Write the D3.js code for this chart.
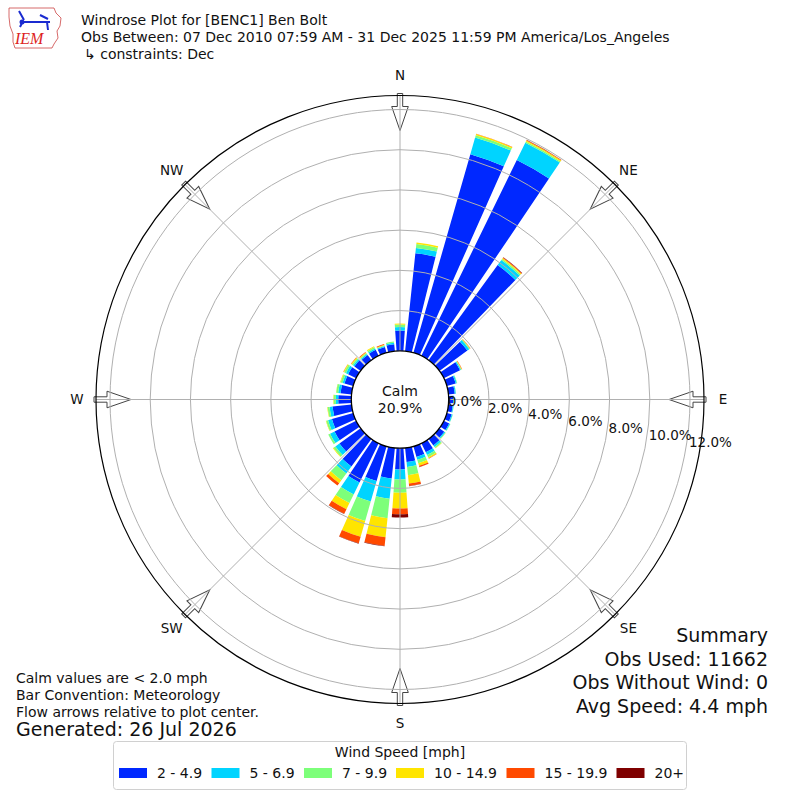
<!DOCTYPE html>
<html>
<head>
<meta charset="utf-8">
<script src="https://cdn.jsdelivr.net/npm/d3@7"></script>
<style>
  html, body { margin: 0; padding: 0; background: #fff; }
  svg { display: block; font-family: "DejaVu Sans", sans-serif; }
</style>
</head>
<body>
<div id="chart"></div>
<script>
// direction bins (degrees, meteorological convention)
const directions = [0, 10, 20, 30, 40, 50, 60, 70, 80, 90, 100, 110, 120, 130, 140, 150, 160, 170,
  180, 190, 200, 210, 220, 230, 240, 250, 260, 270, 280, 290, 300, 310, 320, 330, 340, 350];

// frequency (%) per speed bin
const speed2to49 = [1.01, 4.89, 10.27, 10.83, 5.84, 1.72, 0.90, 0.46, 0.32, 0.22, 0.22, 0.25, 0.30, 0.30, 0.40, 0.50, 0.55, 0.70,
  1.06, 1.53, 1.80, 2.17, 1.69, 1.30, 1.20, 1.10, 0.95, 0.65, 0.55, 0.45, 0.45, 0.38, 0.32, 0.33, 0.30, 0.34];
const speed5to69 = [0.17, 0.27, 0.86, 0.96, 0.31, 0.12, 0.05, 0.06, 0.05, 0.04, 0.04, 0.05, 0.05, 0.06, 0.10, 0.15, 0.15, 0.25,
  0.50, 1.01, 1.06, 0.66, 0.43, 0.25, 0.25, 0.20, 0.15, 0.12, 0.12, 0.10, 0.12, 0.08, 0.06, 0.07, 0.05, 0.07];
const speed7to99 = [0.13, 0.20, 0.12, 0.07, 0.07, 0.04, 0.03, 0.02, 0.01, 0.01, 0.01, 0.01, 0.02, 0.03, 0.06, 0.12, 0.17, 0.41,
  0.65, 0.97, 1.00, 0.48, 0.42, 0.12, 0.10, 0.10, 0.10, 0.11, 0.10, 0.10, 0.10, 0.08, 0.05, 0.08, 0.03, 0.07];
const speed10to149 = [0.05, 0.07, 0.06, 0.05, 0.05, 0.02, 0.02, 0, 0, 0, 0, 0, 0, 0.01, 0.02, 0.06, 0.14, 0.42,
  0.79, 0.95, 0.82, 0.34, 0.18, 0.03, 0, 0.02, 0.02, 0.02, 0.01, 0.03, 0.04, 0.04, 0.04, 0.05, 0.03, 0];
const speed15to199 = [0, 0, 0.02, 0.03, 0.04, 0.01, 0.02, 0, 0, 0, 0, 0, 0, 0, 0, 0.02, 0.06, 0.12,
  0.28, 0.44, 0.34, 0.25, 0.15, 0, 0, 0, 0, 0, 0, 0, 0.01, 0.02, 0.03, 0, 0.04, 0];
const speed20plus = [0, 0, 0, 0.01, 0.02, 0, 0, 0, 0, 0, 0, 0, 0, 0, 0, 0, 0.01, 0.01,
  0.17, 0.02, 0.02, 0.02, 0, 0, 0, 0, 0, 0, 0, 0, 0, 0, 0, 0, 0, 0];

const speedLabels = ['2 - 4.9', '5 - 6.9', '7 - 9.9', '10 - 14.9', '15 - 19.9', '20+'];
const speedColors = ['#0028ff', '#00d4ff', '#7dff7a', '#ffe500', '#ff4a00', '#7f0000'];
const ringTicks = [0, 2, 4, 6, 8, 10, 12];
const compass = ['N', 'NE', 'E', 'SE', 'S', 'SW', 'W', 'NW'];
const calmPct = '20.9%';

const titleLines = [
  'Windrose Plot for [BENC1] Ben Bolt',
  'Obs Between: 07 Dec 2010 07:59 AM - 31 Dec 2025 11:59 PM America/Los_Angeles',
  '\u21b3 constraints: Dec'
];
const noteLines = ['Calm values are < 2.0 mph', 'Bar Convention: Meteorology', 'Flow arrows relative to plot center.'];
const summaryLines = ['Summary', 'Obs Used: 11662', 'Obs Without Wind: 0', 'Avg Speed: 4.4 mph'];

const W = 800, H = 800;
const cx = 400, cy = 399.5;
const outerR = 304;

const svg = d3.select('#chart').append('svg').attr('width', W).attr('height', H);

// radial scale: 0% sits on the calm circle
const r = d3.scaleLinear().domain([0, 12]).range([48.7, 290]);
const angle = d3.scaleLinear().domain([0, 360]).range([0, 2 * Math.PI]);
const halfW = 4; // bar half width in degrees

const series = [speed2to49, speed5to69, speed7to99, speed10to149, speed15to199, speed20plus];
const table = directions.map((d, i) => {
  const row = { dir: d };
  series.forEach((s, k) => { row['s' + k] = s[i]; });
  return row;
});
const stacked = d3.stack().keys(series.map((s, k) => 's' + k))(table);

const g = svg.append('g').attr('transform', `translate(${cx},${cy})`);

// bars
const arc = d3.arc();
stacked.forEach((layer, k) => {
  g.append('g').selectAll('path')
    .data(layer.filter(d => d[1] - d[0] > 0))
    .join('path')
    .attr('d', d => arc({
      innerRadius: r(d[0]),
      outerRadius: r(d[1]),
      startAngle: angle(d.data.dir - halfW),
      endAngle: angle(d.data.dir + halfW)
    }))
    .attr('fill', speedColors[k]);
});

// flow arrows at the rim, pointing inward
const arrowPath = 'M0,-2.7 L13,-2.7 L13,-8.3 L37,0 L13,8.3 L13,2.7 L0,2.7 Z';
compass.forEach((c, i) => {
  const a = i * 45;
  g.append('path')
    .attr('d', arrowPath)
    .attr('transform', `rotate(${a - 90}) translate(${outerR + 2},0) rotate(180)`)
    .attr('fill', '#fff')
    .attr('stroke', '#444')
    .attr('stroke-width', 1);
});

// grid rings and spokes drawn over the bars
g.append('g').selectAll('circle')
  .data(ringTicks.slice(1))
  .join('circle')
  .attr('r', d => r(d))
  .attr('fill', 'none')
  .attr('stroke', '#b0b0b0')
  .attr('stroke-width', 1);

g.append('g').selectAll('line')
  .data(compass.map((c, i) => i * 45))
  .join('line')
  .attr('x1', d => r(0) * Math.sin(angle(d)))
  .attr('y1', d => -r(0) * Math.cos(angle(d)))
  .attr('x2', d => outerR * Math.sin(angle(d)))
  .attr('y2', d => -outerR * Math.cos(angle(d)))
  .attr('stroke', '#b0b0b0')
  .attr('stroke-width', 1);

g.append('circle').attr('r', outerR).attr('fill', 'none').attr('stroke', '#000').attr('stroke-width', 1.2);

// calm circle
g.append('circle').attr('r', r(0)).attr('fill', '#fff').attr('stroke', '#000').attr('stroke-width', 1.3);
g.append('text').attr('x', 0).attr('y', -4).attr('text-anchor', 'middle')
  .attr('font-size', 14).attr('fill', '#111').text('Calm');
g.append('text').attr('x', 0).attr('y', 13).attr('text-anchor', 'middle')
  .attr('font-size', 14).attr('fill', '#111').text(calmPct);

// ring labels
g.append('g').selectAll('text')
  .data(ringTicks)
  .join('text')
  .attr('x', d => r(d) - 1)
  .attr('y', d => 1.5 + d * 3.42)
  .attr('dy', '0.35em')
  .attr('font-size', 13.5)
  .attr('fill', '#111')
  .text(d => d.toFixed(1) + '%');

// compass labels
g.append('g').selectAll('text')
  .data(compass)
  .join('text')
  .attr('x', (d, i) => 323 * Math.sin(angle(i * 45)))
  .attr('y', (d, i) => -324 * Math.cos(angle(i * 45)))
  .attr('dy', '0.35em')
  .attr('text-anchor', 'middle')
  .attr('font-size', 13.5)
  .attr('fill', '#111')
  .text(d => d);

// IEM logo (rough)
const logo = svg.append('g');
logo.append('path')
  .attr('d', 'M9,8 L54,8 L56,13 L61,18 L60,26 L57,31 L58,38 L54,44 L52,48 L15,48 L13,42 L13,34 L10,26 L9,17 Z')
  .attr('fill', 'none').attr('stroke', '#c44').attr('stroke-width', 0.8);
logo.append('line').attr('x1', 20).attr('y1', 22).attr('x2', 50).attr('y2', 22)
  .attr('stroke', '#1a2bd0').attr('stroke-width', 2);
logo.append('path').attr('d', 'M19,11 L24,20 M40,15 L48,19 M47,22 L48,30 M22,23 L20,27')
  .attr('stroke', '#1a2bd0').attr('stroke-width', 2).attr('fill', 'none');
logo.append('circle').attr('cx', 22).attr('cy', 22).attr('r', 2.5).attr('fill', '#1a2bd0');
logo.append('text').attr('x', 15).attr('y', 44)
  .attr('font-family', 'Liberation Serif, serif').attr('font-style', 'italic')
  .attr('font-size', 16).attr('fill', '#d22').text('IEM');

// title block
svg.append('g').selectAll('text')
  .data(titleLines)
  .join('text')
  .attr('x', (d, i) => i === 2 ? 84 : 81)
  .attr('y', (d, i) => 25 + i * 17)
  .attr('font-size', 14)
  .attr('fill', '#111')
  .text(d => d);

// notes bottom left
svg.append('g').selectAll('text')
  .data(noteLines)
  .join('text')
  .attr('x', 16)
  .attr('y', (d, i) => 683 + i * 16.8)
  .attr('font-size', 14)
  .attr('fill', '#111')
  .text(d => d);
svg.append('text').attr('x', 16).attr('y', 736).attr('font-size', 19).attr('fill', '#111')
  .text('Generated: 26 Jul 2026');

// summary bottom right
svg.append('g').selectAll('text')
  .data(summaryLines)
  .join('text')
  .attr('x', 768)
  .attr('y', (d, i) => 642 + i * 23.5)
  .attr('text-anchor', 'end')
  .attr('font-size', 19)
  .attr('fill', '#111')
  .text(d => d);

// legend
const leg = svg.append('g');
leg.append('rect').attr('x', 113.5).attr('y', 741.5).attr('width', 573).attr('height', 48)
  .attr('rx', 3).attr('fill', '#fff').attr('stroke', '#d0d0d0');
leg.append('text').attr('x', 400).attr('y', 757).attr('text-anchor', 'middle')
  .attr('font-size', 14).attr('fill', '#111').text('Wind Speed [mph]');
const legX = [119, 211.5, 304, 396, 506.5, 616.5];
speedLabels.forEach((lab, k) => {
  leg.append('rect').attr('x', legX[k]).attr('y', 768).attr('width', 28).attr('height', 10)
    .attr('fill', speedColors[k]);
  leg.append('text').attr('x', legX[k] + 38).attr('y', 778).attr('font-size', 14)
    .attr('fill', '#111').text(lab);
});
</script>
</body>
</html>
